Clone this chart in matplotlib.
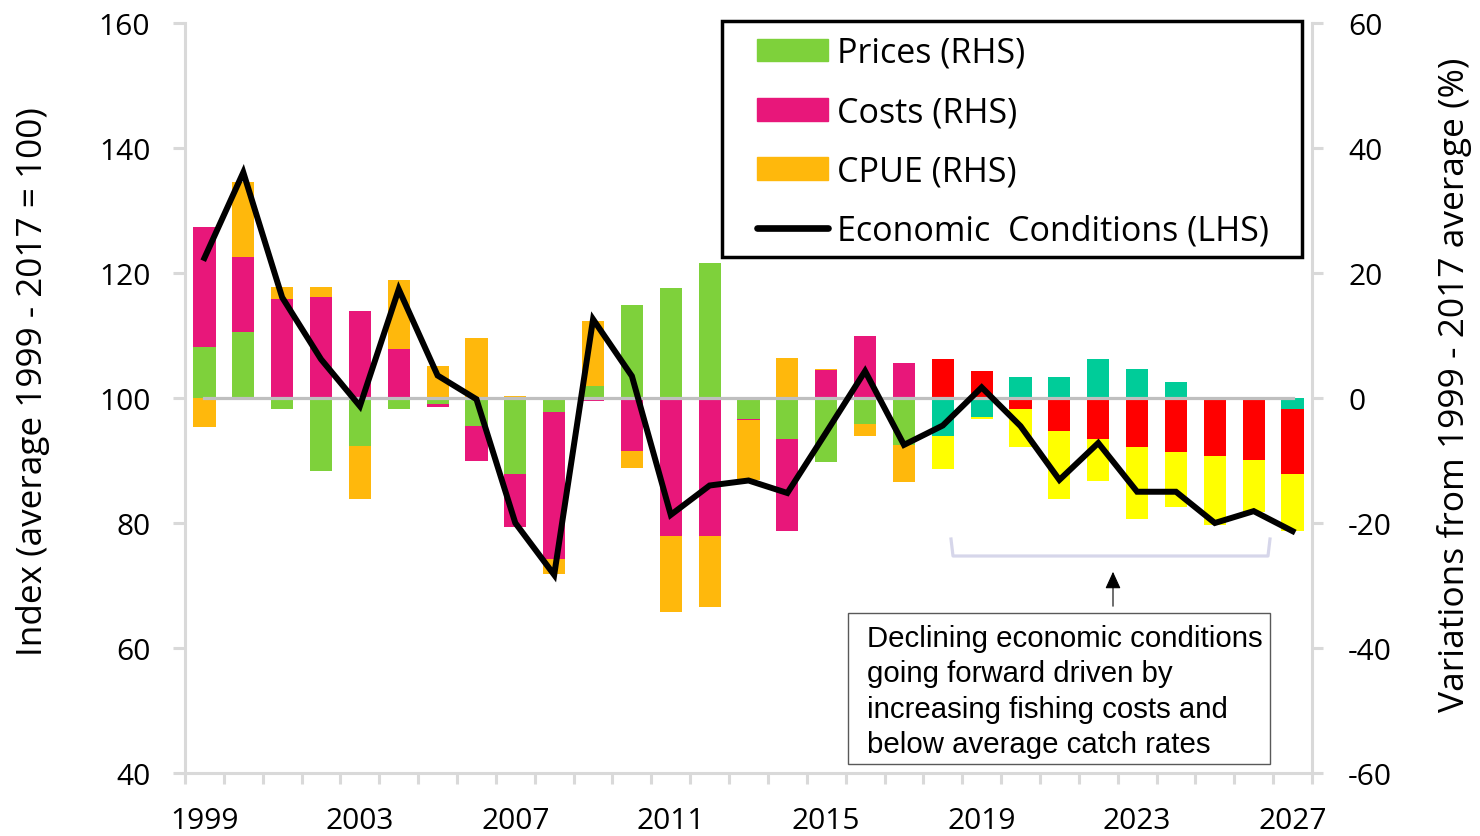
import numpy as np
import matplotlib.pyplot as plt
from matplotlib.lines import Line2D
from matplotlib.patches import Patch, Rectangle

plt.rcParams['font.family'] = ['Open Sans', 'DejaVu Sans']
plt.rcParams['axes.unicode_minus'] = False

# Data (bars in % on RHS, line as index on LHS)
years = list(range(1999, 2028))
prices = [8.2, 10.5, -1.7, -11.7, -7.7, -1.7, -1.0, -4.5, -12.2, -2.3,
          1.9, 14.9, 17.6, 21.6, -3.3, -6.5, -10.2, -4.2, -7.5, -6.1,
          -3.0, 3.4, 3.4, 6.2, 4.7, 2.5, 0.0, 0.0, -1.7]
costs = [19.2, 12.1, 15.9, 16.2, 13.9, 7.9, -0.5, -5.5, -8.4, -23.4,
         -0.5, -8.5, -22.1, -22.1, -0.2, -14.7, 4.5, 10.0, 5.6, 6.2,
         4.4, -1.7, -5.2, -6.6, -7.9, -8.7, -9.2, -9.9, -10.4]
cpue = [-4.7, 12.0, 1.8, 1.5, -8.5, 11.0, 5.2, 9.6, 0.4, -2.4,
        10.5, -2.7, -12.1, -11.3, -9.6, 6.4, 0.2, -1.8, -6.0, -5.2,
        -0.3, -6.2, -11.0, -6.6, -11.5, -8.8, -11.1, -8.4, -9.2]
econ = [122.4, 136.1, 116.1, 106.2, 98.7, 117.4, 103.6, 99.8, 80.0, 71.7,
        112.6, 103.5, 81.3, 86.0, 86.8, 84.8, 94.5, 104.3, 92.5, 95.6,
        101.7, 95.5, 86.9, 92.8, 85.0, 85.0, 80.0, 81.9, 78.7]
first_forecast = 2018

hist_cols = ['#7ED13B', '#E8177A', '#FFB80C']
fc_cols = ['#00CC99', '#FF0000', '#FFFF00']
names = ['Prices (RHS)', 'Costs (RHS)', 'CPUE (RHS)']

W, H = 1480, 837
fig = plt.figure(figsize=(W / 100, H / 100), dpi=100)
ax = fig.add_axes([185 / W, 1 - 774 / H, (1312 - 185) / W, (774 - 24) / H])
ax2 = ax.twinx()
ax.set_zorder(ax2.get_zorder() + 1)
ax.patch.set_visible(False)

x = np.arange(len(years))
grey = '#D9D9D9'


def fp(px, py):
    return px / W, 1 - py / H


# stacked bars, positives and negatives stacked separately
pos = np.zeros(len(x))
neg = np.zeros(len(x))
for vals, hc, fc in zip([prices, costs, cpue], hist_cols, fc_cols):
    v = np.array(vals)
    bottom = np.where(v >= 0, pos, neg)
    cols = [hc if y < first_forecast else fc for y in years]
    ax2.bar(x, v, bottom=bottom, width=0.57, color=cols, linewidth=0)
    pos = pos + np.clip(v, 0, None)
    neg = neg + np.clip(v, None, 0)

# zero line and economic conditions line
ax.plot([x[0], x[-1]], [100, 100], color='#BFBFBF', lw=2.3, zorder=2)
ax.plot(x, econ, color='black', lw=4.3, zorder=3, solid_joinstyle='miter')

ax.set_xlim(-0.5, len(x) - 0.5)
ax.set_ylim(40, 160)
ax2.set_ylim(-60, 60)
ax.set_yticks(range(40, 161, 20))
ax2.set_yticks(range(-60, 61, 20))

ax.set_xticks(np.arange(-0.5, len(x)), labels=[])
ax.set_xticks(x[::4], labels=[str(y) for y in years[::4]], minor=True)
ax.tick_params(axis='x', which='major', length=8, width=2.2, color=grey, direction='out')
ax.tick_params(axis='x', which='minor', length=0, pad=24, labelsize=21.5)
ax.tick_params(axis='y', length=9, width=2.2, color=grey, pad=16, labelsize=21.5)
ax2.tick_params(axis='y', length=8, width=2.2, color=grey, pad=18, labelsize=21.5)

for s in ['top', 'right']:
    ax.spines[s].set_visible(False)
for s in ['top', 'left', 'bottom']:
    ax2.spines[s].set_visible(False)
for sp in [ax.spines['left'], ax.spines['bottom'], ax2.spines['right']]:
    sp.set_color(grey)
    sp.set_linewidth(2.2)

fig.text(33 / W, 1 - 382 / H, 'Index (average 1999 - 2017 = 100)',
         rotation=90, ha='center', va='center', fontsize=25.3)
fig.text(1455 / W, 1 - 385 / H, 'Variations from 1999 - 2017 average (%)',
         rotation=90, ha='center', va='center', fontsize=25.5)

# legend (frame drawn separately)
handles = [Patch(color=c) for c in hist_cols]
handles.append(Line2D([], [], color='black', lw=4.8, solid_capstyle='round'))
labels = names + ['Economic  Conditions (LHS)']
leg = ax.legend(handles, labels, loc='upper left', bbox_to_anchor=fp(757, 37),
                bbox_transform=fig.transFigure, borderaxespad=0, borderpad=0,
                fontsize=24.5, frameon=False, handlelength=2.1, handleheight=0.65,
                handletextpad=0.25, labelspacing=0.74)
lx, ly = fp(722, 258)
fig.add_artist(Rectangle((lx, ly), (1302 - 722) / W, (258 - 22) / H,
                         transform=fig.transFigure, fill=False,
                         edgecolor='black', lw=2.5, zorder=5))

# bracket over the forecast years
bx = [951, 953, 1268, 1270]
by = [540, 557, 557, 540]
fig.add_artist(Line2D([b / W for b in bx], [1 - b / H for b in by],
                      color='#D6D6EA', lw=2.3, transform=fig.transFigure))

# arrow and note
ax.annotate('', xy=fp(1113, 570), xytext=fp(1113, 610), xycoords='figure fraction',
            textcoords='figure fraction',
            arrowprops=dict(arrowstyle='-|>,head_length=1.05,head_width=0.48',
                            color='black', lw=0.8))
x0, y0 = fp(848, 765)
fig.add_artist(Rectangle((x0, y0), (1270 - 848) / W, (765 - 614) / H,
                         transform=fig.transFigure, fill=False,
                         edgecolor='#595959', lw=1))
fig.text(*fp(867, 625), 'Declining economic conditions\ngoing forward driven by\n'
         'increasing fishing costs and\nbelow average catch rates',
         ha='left', va='top', fontsize=21.2, family='Liberation Sans',
         linespacing=1.34)

fig.savefig('out.png', dpi=100)
